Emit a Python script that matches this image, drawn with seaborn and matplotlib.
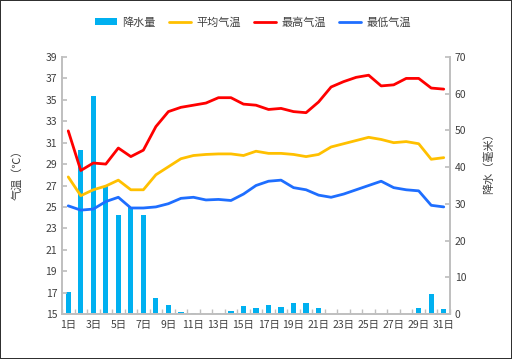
import numpy as np
import pandas as pd
import matplotlib
matplotlib.use("Agg")
import matplotlib.pyplot as plt
import seaborn as sns

days = list(range(1, 32))
precip = [6.0, 44.7, 59.4, 35.0, 27.0, 29.1, 26.9, 4.4, 2.5, 0.5, 0.3, 0.0,
          0.2, 0.9, 2.2, 1.6, 2.4, 1.8, 2.9, 2.9, 1.6, 0.0, 0.0, 0.0,
          0.0, 0.0, 0.0, 0.0, 1.7, 5.4, 1.3]
t_avg = [27.8, 26.05, 26.6, 26.95, 27.5, 26.6, 26.6, 28.0, 28.75, 29.5, 29.8,
         29.9, 29.95, 29.95, 29.8, 30.2, 30.0, 30.0, 29.9, 29.7, 29.9, 30.6,
         30.9, 31.2, 31.5, 31.3, 31.0, 31.1, 30.9, 29.45, 29.6]
t_max = [32.1, 28.4, 29.1, 29.0, 30.5, 29.7, 30.3, 32.5, 33.9, 34.3, 34.5,
         34.7, 35.2, 35.2, 34.6, 34.5, 34.1, 34.2, 33.9, 33.8, 34.8, 36.2,
         36.7, 37.1, 37.3, 36.3, 36.4, 37.0, 37.0, 36.1, 36.0]
t_min = [25.1, 24.7, 24.8, 25.5, 25.9, 24.9, 24.9, 25.0, 25.3, 25.8, 25.9,
         25.65, 25.7, 25.6, 26.2, 27.0, 27.4, 27.5, 26.8, 26.6, 26.1, 25.9,
         26.2, 26.6, 27.0, 27.4, 26.8, 26.6, 26.5, 25.15, 25.0]

temp_ticks = list(range(15, 40, 2))
rain_ticks = list(range(0, 80, 10))
day_labels = [f"{d}日" for d in days[::2]]

sns.set_theme(style="white")
plt.rcParams["font.family"] = ["Noto Sans CJK SC", "DejaVu Sans"]
text_color = "#404040"
spine_color = "#BFBFBF"

df = pd.DataFrame({"day": days, "precip": precip, "avg": t_avg,
                   "max": t_max, "min": t_min})

fig = plt.figure(figsize=(5.12, 3.59), dpi=100)
fig.patch.set_edgecolor("#303030")
fig.patch.set_linewidth(1.2)
ax = fig.add_axes([62 / 512, 1 - 314 / 359, 388 / 512, 257 / 359])
axr = ax.twinx()

# precipitation bars on the right axis
sns.barplot(data=df, x="day", y="precip", native_scale=True, width=0.42,
            color="#00B0F0", saturation=1, linewidth=0, ax=axr, label="降水量")

# temperature lines on the left axis, drawn above the bars
sns.lineplot(data=df, x="day", y="avg", color="#FFC000", lw=2, ax=ax, label="平均气温")
sns.lineplot(data=df, x="day", y="max", color="#FF0000", lw=2, ax=ax, label="最高气温")
sns.lineplot(data=df, x="day", y="min", color="#1E6EFF", lw=2, ax=ax, label="最低气温")
ax.set_zorder(axr.get_zorder() + 1)
ax.patch.set_visible(False)

ax.set_xlim(0.5, 31.5)
ax.set_ylim(15, 39)
axr.set_ylim(0, 70)
ax.set_yticks(temp_ticks)
axr.set_yticks(rain_ticks)
ax.set_xticks(days[::2])
ax.set_xticklabels(day_labels)
ax.set_xticks(np.arange(0.5, 32, 1), minor=True)

ax.tick_params(axis="x", which="major", length=0, labelsize=7.5,
               colors=text_color, pad=4)
ax.tick_params(axis="x", which="minor", length=3.5, direction="in",
               color=spine_color, bottom=True)
ax.tick_params(axis="y", length=3.5, direction="in", color=spine_color,
               labelsize=7.5, labelcolor=text_color, left=True)
axr.tick_params(axis="y", length=3.5, direction="in", color=spine_color,
                labelsize=7.5, labelcolor=text_color, right=True)

for a in (ax, axr):
    for side in ("left", "right", "bottom"):
        a.spines[side].set_color(spine_color)
    a.spines["top"].set_visible(False)
    a.set_xlabel("")
    a.grid(False)

ax.set_ylabel("气温（℃）", fontsize=8, color=text_color)
ax.yaxis.set_label_coords(-0.103, 0.553)
axr.set_ylabel("降水（毫米）", fontsize=8, color=text_color, rotation=90)
axr.yaxis.set_label_coords(1.085, 0.595)

handles = axr.get_legend_handles_labels()[0] + ax.get_legend_handles_labels()[0]
labels = axr.get_legend_handles_labels()[1] + ax.get_legend_handles_labels()[1]
if ax.get_legend():
    ax.get_legend().remove()
if axr.get_legend():
    axr.get_legend().remove()
fig.legend(handles, labels, loc="center", bbox_to_anchor=(0.494, 0.938),
           ncol=4, frameon=False, fontsize=8, handlelength=2.0,
           handleheight=0.6, columnspacing=1.2, handletextpad=0.45,
           labelcolor=text_color)

fig.savefig("out.png", dpi=100)
